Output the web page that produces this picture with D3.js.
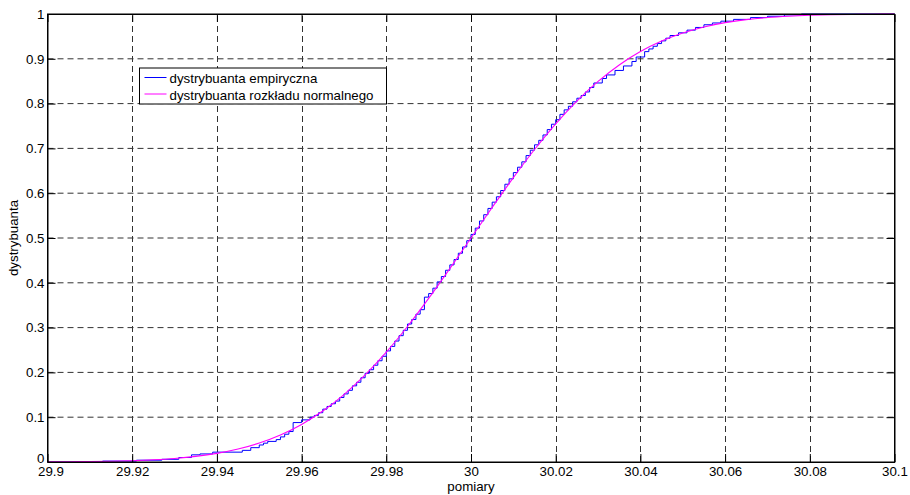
<!DOCTYPE html>
<html>
<head>
<meta charset="utf-8">
<script src="https://cdn.jsdelivr.net/npm/d3@7"></script>
<style>
  html, body { margin: 0; padding: 0; background: #fff; }
  svg { display: block; }
  text { font-family: "Liberation Sans", Arial, Helvetica, sans-serif; }
</style>
</head>
<body>
<svg id="chart" width="910" height="495"></svg>
<script>
// Axis ticks
const xTicks = [29.9, 29.92, 29.94, 29.96, 29.98, 30.0, 30.02, 30.04, 30.06, 30.08, 30.1];
const xTickLabels = ["29.9", "29.92", "29.94", "29.96", "29.98", "30", "30.02", "30.04", "30.06", "30.08", "30.1"];
const yTicks = [0, 0.1, 0.2, 0.3, 0.4, 0.5, 0.6, 0.7, 0.8, 0.9, 1];
const yTickLabels = ["0", "0.1", "0.2", "0.3", "0.4", "0.5", "0.6", "0.7", "0.8", "0.9", "1"];

// Empirical distribution function: measured value -> cumulative fraction
const empX = [29.900, 29.913, 29.921, 29.927, 29.931, 29.934, 29.936, 29.939, 29.946, 29.948,
  29.950, 29.951, 29.952, 29.954, 29.955, 29.956, 29.957, 29.958, 29.960, 29.962,
  29.963, 29.964, 29.965, 29.966, 29.967, 29.968, 29.969, 29.970, 29.971, 29.972,
  29.973, 29.974, 29.975, 29.976, 29.977, 29.978, 29.979, 29.980, 29.981, 29.982,
  29.983, 29.984, 29.985, 29.986, 29.987, 29.988, 29.989, 29.990, 29.991, 29.992,
  29.993, 29.994, 29.995, 29.996, 29.997, 29.998, 29.999, 30.000, 30.001, 30.002,
  30.003, 30.004, 30.005, 30.006, 30.007, 30.008, 30.009, 30.010, 30.011, 30.012,
  30.013, 30.014, 30.015, 30.016, 30.017, 30.018, 30.019, 30.020, 30.021, 30.022,
  30.023, 30.024, 30.025, 30.026, 30.027, 30.028, 30.029, 30.031, 30.032, 30.034,
  30.036, 30.038, 30.039, 30.041, 30.042, 30.043, 30.044, 30.045, 30.046, 30.047,
  30.049, 30.051, 30.053, 30.055, 30.057, 30.059, 30.062, 30.066, 30.070, 30.074,
  30.078, 30.100];
const empF = [0.000, 0.002, 0.004, 0.006, 0.010, 0.016, 0.018, 0.022, 0.026, 0.032,
  0.038, 0.042, 0.046, 0.050, 0.056, 0.062, 0.068, 0.088, 0.094, 0.100,
  0.104, 0.110, 0.118, 0.124, 0.130, 0.136, 0.144, 0.152, 0.160, 0.170,
  0.178, 0.188, 0.198, 0.206, 0.216, 0.226, 0.236, 0.248, 0.258, 0.270,
  0.282, 0.294, 0.308, 0.318, 0.330, 0.340, 0.368, 0.376, 0.388, 0.402,
  0.414, 0.428, 0.440, 0.452, 0.466, 0.480, 0.494, 0.508, 0.522, 0.538,
  0.552, 0.566, 0.580, 0.592, 0.606, 0.620, 0.632, 0.646, 0.658, 0.670,
  0.684, 0.696, 0.708, 0.718, 0.730, 0.742, 0.754, 0.764, 0.776, 0.786,
  0.794, 0.804, 0.812, 0.818, 0.826, 0.836, 0.846, 0.856, 0.864, 0.874,
  0.884, 0.894, 0.904, 0.916, 0.922, 0.928, 0.934, 0.940, 0.946, 0.952,
  0.958, 0.964, 0.970, 0.976, 0.980, 0.984, 0.988, 0.992, 0.995, 0.998,
  1.000, 1.000];

// Normal distribution function sampled along the measurement axis
const normX = [29.900, 29.905, 29.910, 29.915, 29.920, 29.925, 29.930, 29.935, 29.940, 29.945,
  29.950, 29.955, 29.960, 29.965, 29.970, 29.975, 29.980, 29.985, 29.990, 29.995,
  30.000, 30.005, 30.010, 30.015, 30.020, 30.025, 30.030, 30.035, 30.040, 30.045,
  30.050, 30.055, 30.060, 30.065, 30.070, 30.075, 30.080, 30.085, 30.090, 30.095, 30.100];
const normF = [0.0003, 0.0005, 0.0010, 0.0017, 0.0029, 0.0049, 0.0079, 0.0125, 0.0193, 0.0289,
  0.0424, 0.0603, 0.0839, 0.1137, 0.1505, 0.1943, 0.2451, 0.3025, 0.3651, 0.4317,
  0.5000, 0.5683, 0.6349, 0.6975, 0.7549, 0.8057, 0.8495, 0.8863, 0.9161, 0.9397,
  0.9576, 0.9711, 0.9807, 0.9875, 0.9921, 0.9951, 0.9971, 0.9983, 0.9990, 0.9995, 0.9997];

const seriesNames = ["dystrybuanta empiryczna", "dystrybuanta rozkładu normalnego"];
const seriesColors = ["#0000ff", "#ff00ff"];

const svg = d3.select("#chart");
const FONT = "13.3px";

const x = d3.scaleLinear().domain([29.9, 30.1]).range([47.5, 894.5]);
const y = d3.scaleLinear().domain([0, 1]).range([462, 14]);
const [x0, x1] = x.range();
const [y0, y1] = y.range();

// Dashed grid
const grid = svg.append("g").attr("stroke", "#000").attr("stroke-width", 1)
  .attr("stroke-dasharray", "6,4").attr("fill", "none").attr("opacity", 0.8);
grid.selectAll("line.v").data(xTicks.slice(1, -1)).join("line")
  .attr("class", "v")
  .attr("x1", d => Math.round(x(d)) + 0.5).attr("x2", d => Math.round(x(d)) + 0.5)
  .attr("y1", y0).attr("y2", y1);
grid.selectAll("line.h").data(yTicks.slice(1, -1)).join("line")
  .attr("class", "h")
  .attr("y1", d => y(d)).attr("y2", d => y(d))
  .attr("x1", x0).attr("x2", x1);

// Empirical step curve
const empData = empX.map((v, i) => [v, empF[i]]);
svg.append("path")
  .datum(empData)
  .attr("fill", "none")
  .attr("stroke", seriesColors[0])
  .attr("stroke-width", 1)
  .attr("d", d3.line().x(d => x(d[0])).y(d => y(d[1])).curve(d3.curveStepAfter));

// Normal curve
const normData = normX.map((v, i) => [v, normF[i]]);
svg.append("path")
  .datum(normData)
  .attr("fill", "none")
  .attr("stroke", seriesColors[1])
  .attr("stroke-width", 1.1)
  .attr("d", d3.line().x(d => x(d[0])).y(d => y(d[1])).curve(d3.curveMonotoneX));

// Axes with inward ticks on all four sides
const xFmt = (d, i) => xTickLabels[i];
const yFmt = (d, i) => yTickLabels[i];
const TICK = 8;

const gx = svg.append("g").attr("transform", `translate(0,${y0})`)
  .call(d3.axisBottom(x).tickValues(xTicks).tickFormat(xFmt).tickSizeInner(-TICK).tickSizeOuter(0).tickPadding(5));
const gxTop = svg.append("g").attr("transform", `translate(0,${y1})`)
  .call(d3.axisTop(x).tickValues(xTicks).tickFormat("").tickSizeInner(-TICK).tickSizeOuter(0));
const gy = svg.append("g").attr("transform", `translate(${x0},0)`)
  .call(d3.axisLeft(y).tickValues(yTicks).tickFormat(yFmt).tickSizeInner(-TICK).tickSizeOuter(0).tickPadding(3));
const gyRight = svg.append("g").attr("transform", `translate(${x1},0)`)
  .call(d3.axisRight(y).tickValues(yTicks).tickFormat("").tickSizeInner(-TICK).tickSizeOuter(0));

[gx, gxTop, gy, gyRight].forEach(g => {
  g.selectAll("text").attr("font-size", FONT).attr("fill", "#000")
    .attr("font-family", '"Liberation Sans", Arial, sans-serif');
  g.selectAll("line").attr("stroke", "#000");
  g.select(".domain").attr("stroke", "#000");
});
// keep the corner labels apart
gx.selectAll(".tick text").filter((d, i) => i === 0).attr("dx", 3);
gy.selectAll(".tick text").filter((d, i) => i === 0).attr("dy", "0em");

// Axes box
svg.append("rect")
  .attr("x", x0).attr("y", y1)
  .attr("width", x1 - x0).attr("height", y0 - y1)
  .attr("fill", "none").attr("stroke", "#000").attr("stroke-width", 1);

// Axis titles
svg.append("text")
  .attr("x", (x0 + x1) / 2).attr("y", 491)
  .attr("text-anchor", "middle").attr("font-size", FONT)
  .text("pomiary");
svg.append("text")
  .attr("transform", `translate(18,${(y0 + y1) / 2}) rotate(-90)`)
  .attr("text-anchor", "middle").attr("font-size", FONT)
  .text("dystrybuanta");

// Legend
const legend = svg.append("g").attr("transform", "translate(139.5,68)");
legend.append("rect")
  .attr("width", 247).attr("height", 36)
  .attr("fill", "#fff").attr("stroke", "#000").attr("stroke-width", 1);
seriesNames.forEach((name, i) => {
  const ly = i === 0 ? 9.5 : 26;
  legend.append("line")
    .attr("x1", 5).attr("x2", 27).attr("y1", ly).attr("y2", ly)
    .attr("stroke", seriesColors[i]).attr("stroke-width", 1);
  legend.append("text")
    .attr("x", 30).attr("y", (i === 0 ? 9.5 : 26.5) + 5)
    .attr("font-size", FONT)
    .text(name);
});
</script>
</body>
</html>
